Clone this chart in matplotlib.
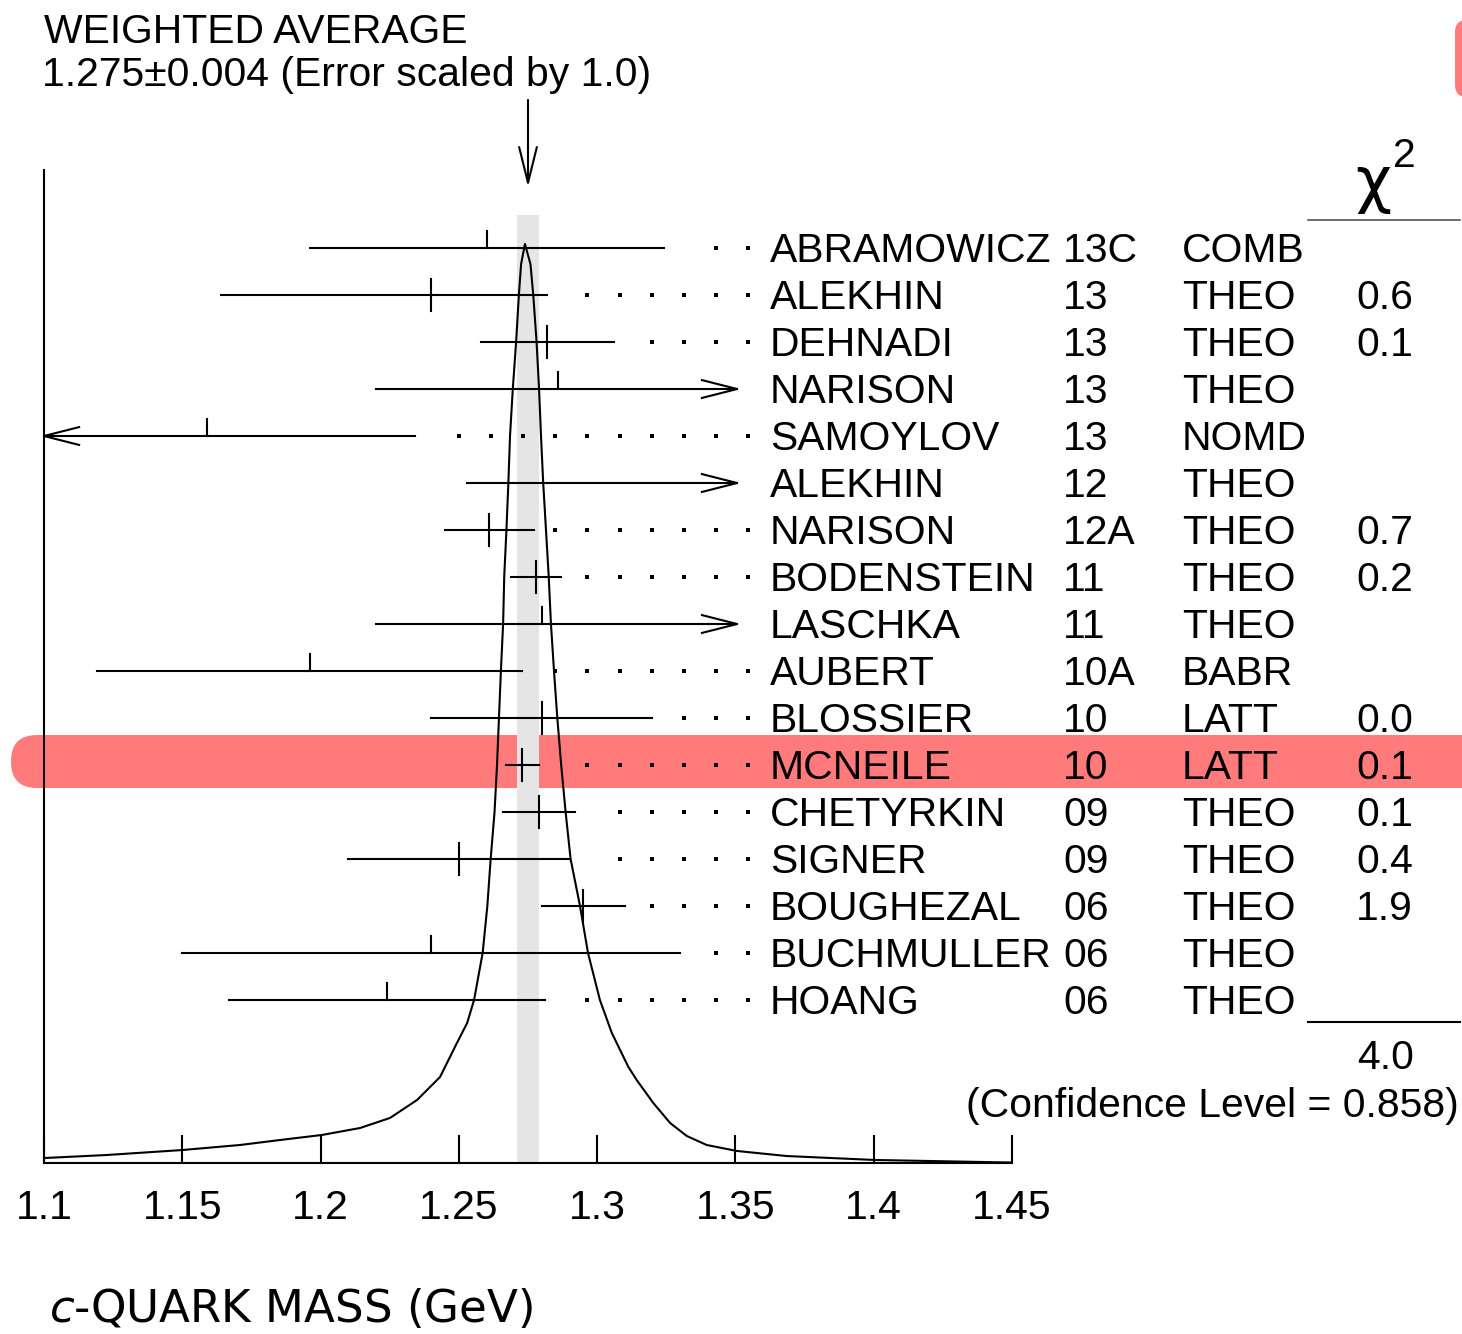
import matplotlib
matplotlib.use("Agg")
import numpy as np
import matplotlib.pyplot as plt
from matplotlib.patches import FancyBboxPatch
from matplotlib.lines import Line2D
from matplotlib.transforms import blended_transform_factory, IdentityTransform

plt.rcParams["font.family"] = ["Liberation Sans", "DejaVu Sans"]
plt.rcParams["mathtext.fontset"] = "dejavusans"

W, H, DPI = 1462, 1334, 100

# --- measurements (GeV) -------------------------------------------------
NAMES = ["ABRAMOWICZ", "ALEKHIN", "DEHNADI", "NARISON", "SAMOYLOV", "ALEKHIN",
         "NARISON", "BODENSTEIN", "LASCHKA", "AUBERT", "BLOSSIER", "MCNEILE",
         "CHETYRKIN", "SIGNER", "BOUGHEZAL", "BUCHMULLER", "HOANG"]
YEARS = ["13C", "13", "13", "13", "13", "12", "12A", "11", "11", "10A", "10",
         "10", "09", "09", "06", "06", "06"]
TECN = ["COMB", "THEO", "THEO", "THEO", "NOMD", "THEO", "THEO", "THEO", "THEO",
        "BABR", "LATT", "LATT", "THEO", "THEO", "THEO", "THEO", "THEO"]
VALUE = [1.260, 1.240, 1.282, 1.286, 1.159, 1.360, 1.261, 1.278, 1.280, 1.196,
         1.280, 1.273, 1.279, 1.250, 1.295, 1.240, 1.224]
ERR_LO = [0.064, 0.076, 0.024, 0.066, 0.075, 0.107, 0.016, 0.009, 0.060, 0.077,
          0.040, 0.006, 0.013, 0.040, 0.015, 0.090, 0.057]
ERR_HI = [0.064, 0.042, 0.024, 0.066, 0.075, 0.110, 0.016, 0.009, 0.080, 0.077,
          0.040, 0.006, 0.013, 0.040, 0.015, 0.090, 0.057]
CHI2 = ["", "0.6", "0.1", "", "", "", "0.7", "0.2", "", "", "0.0", "0.1", "0.1",
        "0.4", "1.9", "", ""]
CHI2_SUM = "4.0"
CONF_LEVEL = "0.858"
WAVG, WAVG_ERR, SCALE = 1.275, 0.004, 1.0
HIGHLIGHT = 11  # MCNEILE 10

IDEO_M = [1.1000, 1.1227, 1.1499, 1.1709, 1.1853, 1.2005, 1.2143, 1.2251, 1.2349,
          1.2432, 1.2493, 1.2530, 1.2555, 1.2586, 1.2603, 1.2615, 1.2629, 1.2638,
          1.2645, 1.2652, 1.2660, 1.2664, 1.2672, 1.2679, 1.2685, 1.2695, 1.2707,
          1.2717, 1.2725, 1.2739, 1.2759, 1.2769, 1.2781, 1.2790, 1.2797, 1.2805,
          1.2815, 1.2825, 1.2833, 1.2844, 1.2856, 1.2870, 1.2886, 1.2904, 1.2938,
          1.2967, 1.3010, 1.3053, 1.3113, 1.3143, 1.3203, 1.3264, 1.3324, 1.3396,
          1.3505, 1.3685, 1.4002, 1.4500]
IDEO_D = [0.0054, 0.0087, 0.0141, 0.0196, 0.0250, 0.0305, 0.0381, 0.0490, 0.0686,
          0.0936, 0.1306, 0.1523, 0.1774, 0.2285, 0.2797, 0.3308, 0.3819, 0.4331,
          0.4842, 0.5354, 0.5865, 0.6377, 0.6888, 0.7399, 0.7911, 0.8422, 0.8934,
          0.9445, 0.9780, 1.0000, 0.9780, 0.9445, 0.8934, 0.8422, 0.7911, 0.7399,
          0.6888, 0.6377, 0.5865, 0.5354, 0.4842, 0.4331, 0.3819, 0.3308, 0.2797,
          0.2285, 0.1774, 0.1415, 0.1045, 0.0903, 0.0653, 0.0435, 0.0294, 0.0196,
          0.0131, 0.0076, 0.0033, 0.0005]

XMIN, XMAX = 1.1, 1.45
XCLIP = 1.3506                     # bars stop where the labels begin
TICKS = [1.1, 1.15, 1.2, 1.25, 1.3, 1.35, 1.4, 1.45]
TICK_LABELS = ["1.1", "1.15", "1.2", "1.25", "1.3", "1.35", "1.4", "1.45"]
DOT_LAST, DOT_STEP = 1.35444, 0.011589

FS = 29.4
LW = 1.5
RED = "#ff7b7b"


def fx(px):
    return px / W


def fy(py):
    return 1 - py / H


fig = plt.figure(figsize=(W / DPI, H / DPI), dpi=DPI)
fig.patch.set_facecolor("white")
ax = fig.add_axes([fx(44), fy(1163), fx(1012) - fx(44), fy(170) - fy(1163)])
ax.patch.set_visible(False)
n = len(NAMES)
ax.set_xlim(XMIN, XMAX)
ax.set_ylim(n - 1 + 3.468, -1.66)

for s in ("top", "right"):
    ax.spines[s].set_visible(False)
for s in ("left", "bottom"):
    ax.spines[s].set_linewidth(LW)
ax.set_yticks([])
ax.set_xticks(TICKS)
ax.set_xticklabels(TICK_LABELS)
ax.tick_params(axis="x", direction="in", length=20, width=LW, pad=19, labelsize=FS)

# weighted average band
ax.axvspan(WAVG - WAVG_ERR, WAVG + WAVG_ERR, ymin=0, ymax=0.9547,
           color="#e5e5e5", lw=0, zorder=1)

# highlighted row
yc = ax.transData.transform((1.2, HIGHLIGHT))[1] + 3.5
fig.add_artist(FancyBboxPatch((11, yc - 26.5), 1540, 53,
                              boxstyle="round,pad=0,rounding_size=26",
                              transform=IdentityTransform(), fc=RED, ec="none",
                              zorder=-1))
fig.add_artist(FancyBboxPatch((1455, H - 97), 60, 77,
                              boxstyle="round,pad=0,rounding_size=12",
                              transform=IdentityTransform(), fc=RED, ec="none",
                              zorder=-1))

# error bars
ah_len, ah_w = 0.0127, 0.19
dots = DOT_LAST - DOT_STEP * np.arange(0, 25)
dots = dots[dots > XMIN]
for i in range(n):
    v, lo, hi = VALUE[i], VALUE[i] - ERR_LO[i], VALUE[i] + ERR_HI[i]
    left, right = max(lo, XMIN), min(hi, XCLIP)
    ax.plot([left, right], [i, i], color="k", lw=LW, zorder=3, clip_on=False)
    if lo < XMIN:
        ax.plot([XMIN + ah_len, XMIN, XMIN + ah_len], [i - ah_w, i, i + ah_w],
                color="k", lw=LW, zorder=3, clip_on=False)
    if hi > XCLIP:
        ax.plot([XCLIP - ah_len, XCLIP, XCLIP - ah_len], [i - ah_w, i, i + ah_w],
                color="k", lw=LW, zorder=3, clip_on=False)
    if XMIN <= v <= XCLIP:
        if CHI2[i]:
            ax.plot([v, v], [i - 0.34, i + 0.34], color="k", lw=LW, zorder=3)
        else:
            ax.plot([v, v], [i - 0.36, i], color="k", lw=LW, zorder=3)
    if hi <= XCLIP:
        d = dots[dots > hi + 0.0075]
        ax.plot(d, np.full(len(d), i), ls="none", marker="s", ms=2.2,
                color="k", mew=0, zorder=3, clip_on=False)

# ideogram
ax2 = ax.twinx()
ax2.set_ylim(0, 993 / 919)
ax2.axis("off")
ax2.plot(IDEO_M, IDEO_D, color="k", lw=LW, clip_on=False)

# arrow to the average
ax.annotate("", xy=(WAVG, -1.30), xytext=(WAVG, -3.15), annotation_clip=False,
            arrowprops=dict(arrowstyle="->,head_length=0.8,head_width=0.2",
                            mutation_scale=32, lw=LW, color="k",
                            shrinkA=0, shrinkB=0))

# row labels
tr = blended_transform_factory(fig.transFigure, ax.transData)
off = 0.307
for i in range(n):
    kw = dict(transform=tr, fontsize=FS, va="baseline", ha="left", zorder=5)
    ax.text(fx(770), i + off, NAMES[i], **kw)
    ax.text(fx(1063), i + off, YEARS[i], **kw)
    ax.text(fx(1182), i + off, TECN[i], **kw)
    if CHI2[i]:
        ax.text(fx(1356), i + off, CHI2[i], **kw)

# chi2 header and total
fig.text(fx(1355), fy(201), "χ", fontsize=45, family="DejaVu Sans",
         va="baseline", ha="left")
fig.text(fx(1393), fy(167), "2", fontsize=FS, va="baseline", ha="left")
fig.add_artist(Line2D([fx(1308), fx(1460)], [fy(220), fy(220)], color="#555555", lw=1.2))
fig.add_artist(Line2D([fx(1308), fx(1460)], [fy(1022), fy(1022)], color="k", lw=1.5))
fig.text(fx(1357), fy(1069), CHI2_SUM, fontsize=FS, va="baseline", ha="left")
fig.text(fx(1459), fy(1117), f"(Confidence Level = {CONF_LEVEL})", fontsize=FS,
         va="baseline", ha="right")

# header
fig.text(fx(44), fy(43), "WEIGHTED AVERAGE", fontsize=FS, va="baseline")
fig.text(fx(42), fy(86), f"{WAVG:.3f}±{WAVG_ERR:.3f} (Error scaled by {SCALE:.1f})",
         fontsize=FS, va="baseline")

# axis title
fig.text(fx(49), fy(1322), r"$c$-QUARK MASS (GeV)", fontsize=32.5,
         family="DejaVu Sans", va="baseline")

fig.savefig("out.png", dpi=DPI)
